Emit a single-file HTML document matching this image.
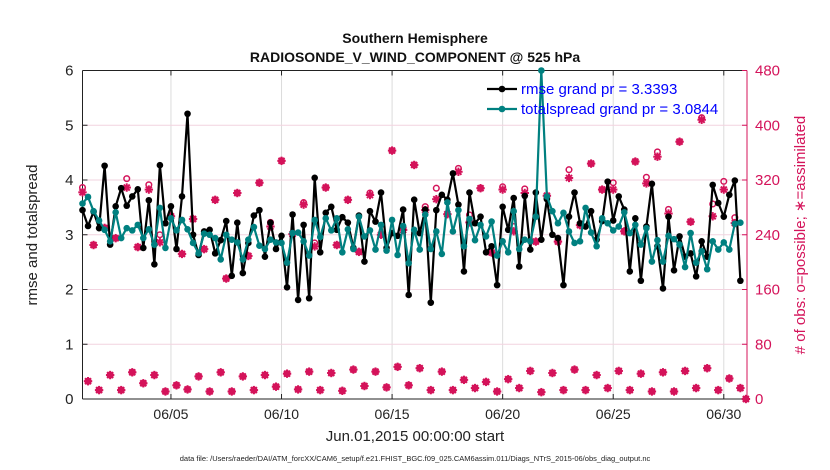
<!DOCTYPE html>
<html><head><meta charset="utf-8"><style>
body{margin:0;background:#fff;}
svg{display:block;font-family:"Liberation Sans",sans-serif;}
</style></head><body>
<svg id="chart" width="830" height="470"></svg>
<script>
const dayTicks=[4,9,14,19,24,29];
const dayTickLabels=["06/05","06/10","06/15","06/20","06/25","06/30"];
const leftTicks=[0,1,2,3,4,5,6];
const rightTicks=[0,80,160,240,320,400,480];
const rmse=[3.45,3.16,3.42,3.12,4.26,2.82,3.52,3.85,3.53,3.70,
3.83,2.76,3.63,2.46,4.27,3.21,3.52,2.74,3.70,5.21,
3.00,2.63,3.06,3.09,2.66,2.90,3.25,2.25,3.22,2.30,
2.85,3.35,3.45,2.60,3.22,2.74,2.98,2.04,3.37,1.81,
3.18,1.84,4.04,2.68,3.40,3.51,3.09,3.32,3.22,2.76,
3.35,2.51,3.43,3.24,3.77,2.76,3.03,2.98,3.46,1.90,
3.64,3.03,3.46,1.76,3.45,3.73,3.64,4.12,3.55,2.33,
3.77,3.21,3.33,2.68,2.79,2.08,3.51,3.09,3.67,2.42,
3.71,2.73,3.77,2.91,3.65,3.00,2.94,2.08,3.33,3.77,
3.21,3.15,3.43,2.91,3.25,3.97,3.26,3.70,3.46,2.33,
3.30,2.16,3.15,3.93,2.79,2.02,3.33,2.35,2.97,2.60,
2.66,2.24,2.88,2.60,3.91,3.58,3.33,3.73,3.99,2.16];
const spread=[3.57,3.69,3.43,3.26,3.09,2.88,3.41,2.94,3.12,3.08,
3.18,2.94,3.10,2.82,3.49,2.76,3.30,3.08,3.27,3.10,
2.85,2.66,3.02,3.00,2.94,2.55,3.00,2.91,2.86,2.55,
2.91,3.14,2.80,2.74,2.91,2.86,2.85,2.49,3.03,3.04,
2.88,2.62,3.27,2.96,3.30,3.08,3.30,2.68,3.10,2.74,
3.33,2.97,3.08,2.73,3.18,2.71,3.27,2.63,3.16,2.48,
3.09,2.73,3.37,2.74,3.06,2.65,3.59,3.06,3.45,2.79,
3.29,2.90,3.18,2.97,3.24,2.62,2.88,2.68,3.43,2.74,
2.91,2.88,3.33,6.00,3.70,3.43,3.21,3.40,3.06,2.85,
2.88,3.49,3.04,2.79,3.30,3.21,3.08,3.15,3.41,3.03,
3.18,2.82,3.12,2.51,2.90,2.51,2.98,2.92,2.82,2.41,
3.03,2.49,2.70,2.37,2.88,2.73,2.86,2.73,3.20,3.22];
const assimilated=[302,26,225,13,250,35,235,13,309,39,
222,23,306,35,229,11,267,20,212,14,
263,33,219,11,291,39,176,11,301,33,
209,13,316,35,252,18,348,37,241,14,
284,40,223,13,309,38,225,12,291,43,
215,19,298,40,240,17,363,47,247,20,
342,45,276,13,292,40,270,13,332,28,
258,16,308,25,214,11,306,29,245,16,
301,41,230,10,297,38,230,13,323,43,
254,13,344,35,306,16,306,41,245,13,
347,37,315,11,354,39,271,11,376,41,
259,16,408,45,267,13,306,30,257,16,0];
const possible=[309,26,225,13,250,35,235,13,322,39,
222,23,313,35,240,11,267,20,212,14,
263,33,219,11,291,39,176,11,301,33,
209,13,316,35,258,18,348,37,241,14,
287,40,228,13,309,38,225,12,291,43,
215,19,301,40,240,17,363,47,250,20,
342,45,281,13,308,40,270,13,337,28,
269,16,308,25,214,11,310,29,252,16,
307,41,230,10,297,38,230,13,335,43,
254,13,344,35,306,16,316,41,245,13,
347,37,324,11,361,39,277,11,376,41,
259,16,411,45,285,13,318,30,265,16,0];

const L=82.5,R=747,T=70.5,B=399;
const X=d=>L+(d/30.05)*(R-L);
const Y=v=>B-(v/6)*(B-T);
const YR=v=>B-(v/480)*(B-T);
const tOf=i=>i*0.25;
const svg=document.getElementById('chart');
const NS='http://www.w3.org/2000/svg';
function mk(tag,attrs,parent){const e=document.createElementNS(NS,tag);for(const k in attrs)e.setAttribute(k,attrs[k]);(parent||svg).appendChild(e);return e;}
const CR='#d4135a';

// grid
const grid=mk('g',{});


dayTicks.forEach(d=>{mk('line',{x1:X(d),x2:X(d),y1:T,y2:B,stroke:'#dcdcdc','stroke-width':1},grid);});
leftTicks.forEach(v=>{if(v>0&&v<6)mk('line',{x1:L,x2:R,y1:Y(v),y2:Y(v),stroke:'#f2d3df','stroke-width':1},grid);});

// axes
const axes=mk('g',{});


mk('line',{x1:L,x2:R,y1:T,y2:T,stroke:'#222','stroke-width':1},axes);
mk('line',{x1:L,x2:R,y1:B,y2:B,stroke:'#222','stroke-width':1},axes);
mk('line',{x1:L,x2:L,y1:T,y2:B,stroke:'#222','stroke-width':1},axes);
mk('line',{x1:R,x2:R,y1:T,y2:B,stroke:CR,'stroke-width':1},axes);
dayTicks.forEach((d,i)=>{
  mk('line',{x1:X(d),x2:X(d),y1:B,y2:B-5,stroke:'#222'},axes);
  mk('line',{x1:X(d),x2:X(d),y1:T,y2:T+5,stroke:'#222'},axes);
  const t=mk('text',{x:X(d),y:B+20,'font-size':14,'text-anchor':'middle',fill:'#222'},axes);
  t.textContent=dayTickLabels[i];
  
  
});
leftTicks.forEach(v=>{
  mk('line',{x1:L,x2:L+5,y1:Y(v),y2:Y(v),stroke:'#222'},axes);
  const t=mk('text',{x:L-9,y:Y(v)+5,'font-size':15,'text-anchor':'end',fill:'#222'},axes);
  t.textContent=v;
  
  
});
rightTicks.forEach(v=>{
  mk('line',{x1:R,x2:R-5,y1:YR(v),y2:YR(v),stroke:CR},axes);
  const t=mk('text',{x:R+8,y:YR(v)+5,'font-size':15,'text-anchor':'start',fill:CR},axes);
  t.textContent=v;
  
  
});

// obs markers
const obs=mk('g',{});


possible.forEach((v,i)=>{
  const c=mk('circle',{cx:X(tOf(i)),cy:YR(v),r:2.8,fill:'none',stroke:CR,'stroke-width':1.5},obs);
  
  
});
assimilated.forEach((v,i)=>{
  const x=X(tOf(i)),y=YR(v),s=4.2,d=3;
  const g=mk('g',{stroke:CR,'stroke-width':2},obs);
  
  
  mk('line',{x1:x-s,x2:x+s,y1:y,y2:y},g);
  mk('line',{x1:x,x2:x,y1:y-s,y2:y+s},g);
  mk('line',{x1:x-d,x2:x+d,y1:y-d,y2:y+d},g);
  mk('line',{x1:x-d,x2:x+d,y1:y+d,y2:y-d},g);
});

function series(arr,color,name){
  const g=mk('g',{});
  
  
  const pts=arr.map((v,i)=>X(tOf(i)).toFixed(1)+','+Y(v).toFixed(1)).join(' ');
  mk('polyline',{points:pts,fill:'none',stroke:color,'stroke-width':2.2,'stroke-linejoin':'round'},g);
  arr.forEach((v,i)=>{
    const c=mk('circle',{cx:X(tOf(i)),cy:Y(v),r:3.3,fill:color},g);
    
    
  });
}
series(rmse,'#000000','rmse-series');
series(spread,'#008080','totalspread-series');

// legend
const lg=mk('g',{});


[['rmse grand pr = 3.3393','#000000',89],['totalspread grand pr = 3.0844','#008080',109]].forEach(e=>{
  const g=mk('g',{},lg);
  
  
  mk('line',{x1:487,x2:517,y1:e[2],y2:e[2],stroke:e[1],'stroke-width':2.2},g);
  mk('circle',{cx:502,cy:e[2],r:3.3,fill:e[1]},g);
  const t=mk('text',{x:521,y:e[2]+5,'font-size':15,fill:'#0000ff'},g);
  t.textContent=e[0];
});

function txt(s,attrs,name){const t=mk('text',attrs);t.textContent=s;return t;}
txt('Southern Hemisphere',{x:415,y:43,'font-size':14,'font-weight':'bold','text-anchor':'middle',fill:'#111'},'chart-title');
txt('RADIOSONDE_V_WIND_COMPONENT @ 525 hPa',{x:415,y:62,'font-size':14,'font-weight':'bold','text-anchor':'middle',fill:'#111'},'chart-subtitle');
txt('rmse and totalspread',{x:0,y:0,'font-size':15,'text-anchor':'middle',fill:'#222',transform:'translate(37,235) rotate(-90)'},'y-axis-title');
txt('# of obs: o=possible; \u2217=assimilated',{x:0,y:0,'font-size':15,'text-anchor':'middle',fill:CR,transform:'translate(805,235) rotate(-90)'},'y-right-axis-title');
txt('Jun.01,2015 00:00:00 start',{x:415,y:441,'font-size':15,'text-anchor':'middle',fill:'#222'},'x-axis-title');
txt('data file: /Users/raeder/DAI/ATM_forcXX/CAM6_setup/f.e21.FHIST_BGC.f09_025.CAM6assim.011/Diags_NTrS_2015-06/obs_diag_output.nc',{x:415,y:461,'font-size':7.5,'text-anchor':'middle',fill:'#222'},'data-file-note');
</script>
</body></html>
